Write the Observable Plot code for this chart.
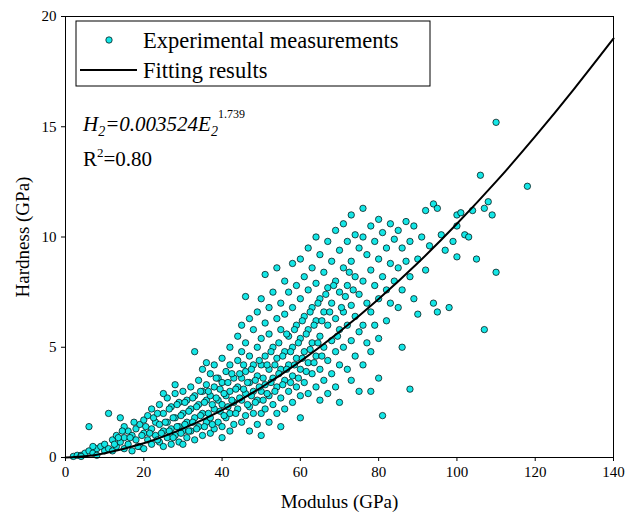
<!DOCTYPE html>
<html><head><meta charset="utf-8">
<script src="https://cdn.jsdelivr.net/npm/d3@7"></script>
<script src="https://cdn.jsdelivr.net/npm/@observablehq/plot@0.6"></script>
<style>body{margin:0;background:#fff}</style>
</head><body><div id="c"></div>
<script>
const pts = [[2,0.05],[3,0.1],[4,0.1],[5,0.2],[6,0.3],[7,0.2],[8,0.4],[6,1.4],[9,0.5],[10,0.3],[10,0.6],[8,0.1],[4,0.05],[7,0.5],
[11,0.4],[12,0.8],[12,0.3],[13,1.0],[13,0.5],[14,0.7],[14,1.8],[15,0.9],[15,0.4],[16,1.2],[16,0.6],[17,1.0],[17,0.3],[18,1.3],[18,0.8],[19,1.5],[19,0.5],[20,1.1],[20,1.7],[20,0.4],[11,2.0],[15,1.4],
[21,1.9],[21,0.8],[22,1.3],[22,2.2],[22,0.6],[23,1.6],[23,1.0],[24,2.4],[24,0.7],[24,1.5],[25,2.0],[25,1.2],[25,0.5],[26,2.7],[26,1.6],[26,0.9],[27,2.3],[27,1.3],[27,0.6],[28,2.9],[28,1.8],[28,1.0],[29,2.5],[29,1.4],[29,0.7],[30,3.0],[30,2.0],[30,1.2],[30,0.6],[25,2.9],[28,3.3],
[31,2.6],[31,1.6],[31,0.9],[32,3.2],[32,2.2],[32,1.2],[33,2.8],[33,1.8],[33,0.8],[34,3.5],[34,2.4],[34,1.4],[35,4.0],[35,3.0],[35,2.0],[35,1.0],[36,3.3],[36,2.6],[36,1.6],[37,3.8],[37,2.8],[37,1.8],[37,1.1],[38,4.2],[38,3.2],[38,2.2],[38,1.3],[39,3.6],[39,2.6],[39,1.6],[40,4.5],[40,3.4],[40,2.4],[40,1.4],[40,0.9],[33,4.8],[36,4.3],
[41,3.9],[41,2.8],[41,1.8],[42,5.0],[42,4.2],[42,3.0],[42,2.0],[42,1.2],[43,3.6],[43,2.5],[43,1.5],[44,5.5],[44,4.4],[44,3.2],[44,2.2],[45,6.0],[45,4.8],[45,3.6],[45,2.6],[45,1.6],[46,5.2],[46,3.9],[46,2.9],[46,1.9],[47,6.3],[47,4.6],[47,3.4],[47,2.3],[47,1.2],[48,5.8],[48,4.2],[48,3.0],[48,2.0],[49,6.6],[49,5.0],[49,3.7],[49,2.6],[49,1.5],[50,7.2],[50,5.4],[50,4.2],[50,3.0],[50,2.0],[50,1.0],[51,8.3],[46,7.3],
[51,6.1],[51,4.6],[51,3.3],[51,2.2],[52,6.8],[52,5.6],[52,4.0],[52,2.8],[52,1.6],[53,7.5],[53,5.0],[53,3.6],[53,2.4],[54,8.6],[54,6.3],[54,4.5],[54,3.2],[54,2.0],[55,7.0],[55,5.8],[55,4.0],[55,2.7],[55,1.4],[56,8.0],[56,6.5],[56,4.8],[56,3.5],[56,2.2],[57,7.5],[57,5.5],[57,4.2],[57,3.0],[58,8.8],[58,6.8],[58,5.0],[58,3.7],[58,2.5],[59,7.8],[59,6.0],[59,4.5],[59,3.2],[60,9.0],[60,7.2],[60,5.4],[60,4.0],[60,2.8],[60,1.8],
[61,8.2],[61,6.4],[61,4.8],[61,3.4],[62,9.5],[62,7.6],[62,5.8],[62,4.3],[62,2.9],[63,8.6],[63,6.8],[63,5.2],[63,3.8],[64,10.0],[64,7.9],[64,6.2],[64,4.6],[64,3.2],[65,9.2],[65,7.2],[65,5.5],[65,4.0],[65,2.6],[66,8.4],[66,6.6],[66,5.0],[66,3.5],[67,9.8],[67,7.7],[67,6.0],[67,4.4],[67,2.9],[68,8.9],[68,7.0],[68,5.3],[68,3.8],[69,10.3],[69,8.0],[69,6.3],[69,4.8],[69,3.2],[70,9.4],[70,7.5],[70,5.8],[70,4.2],[70,2.5],
[71,10.6],[71,8.6],[71,6.6],[71,5.0],[72,9.8],[72,7.8],[72,6.0],[72,4.0],[73,11.0],[73,8.9],[73,6.9],[73,5.3],[73,3.5],[74,10.1],[74,8.2],[74,6.4],[74,4.6],[75,9.5],[75,7.4],[75,5.7],[75,3.0],[76,11.3],[76,10.0],[76,8.0],[76,6.0],[76,4.2],[77,9.2],[77,7.0],[77,5.2],[78,10.5],[78,8.5],[78,6.6],[78,4.8],[79,9.8],[79,7.8],[79,6.0],[80,10.8],[80,9.0],[80,7.2],[80,5.4],[80,3.6],[81,1.9],[78,3.0],
[81,10.2],[81,8.2],[82,9.5],[82,7.6],[82,6.2],[83,10.6],[83,8.8],[83,7.0],[84,9.9],[84,8.0],[85,10.3],[85,8.6],[85,6.8],[86,9.5],[86,7.6],[86,5.0],[87,10.7],[87,8.9],[88,9.8],[88,8.2],[88,3.1],[89,10.5],[89,7.2],[90,9.0],[90,6.5],[91,10.0],[92,11.2],[92,8.5],[93,9.6],[94,11.5],[94,7.0],[95,11.3],[95,6.6],[96,10.1],[97,9.4],[98,6.8],[99,9.8],[100,11.0],[100,10.5],[101,11.1],[102,10.1],[103,10.0],[104,11.2],[105,9.0],[106,12.8],[107,5.8],[107,11.3],[108,11.6],[109,11.0],[110,15.2],[110,8.4],[118,12.3],[100,9.1],
[12.5,0.6],[13.5,0.9],[14.5,1.2],[16.5,0.9],[17.5,1.6],[18.5,0.5],[19.5,1.0],[20.5,1.4],[21.5,1.1],[22.5,1.8],[23.5,0.8],[23.5,2.0],[24.5,1.1],[25.5,1.6],[26.5,2.2],[26.5,1.2],[27.5,1.8],[27.5,0.9],[28.5,1.4],[28.5,2.4],[29.5,1.9],[29.5,1.1],[30.5,2.5],[30.5,1.5],[31.5,2.1],[31.5,1.2],[32.5,2.7],[32.5,1.6],[33.5,2.3],[33.5,1.3],[34.5,3.0],[34.5,1.9],[35.5,2.5],[35.5,1.4],[36.5,3.0],[36.5,2.0],[37.5,2.4],[37.5,1.5],[38.5,3.6],[38.5,2.7],[39.5,3.1],[39.5,2.1],[40.5,2.9],[40.5,1.9],[41.5,3.4],[41.5,2.3],[42.5,3.8],[42.5,2.6],[43.5,3.1],[43.5,2.0],[44.5,3.8],[44.5,2.7],[45.5,4.2],[45.5,3.1],[46.5,3.4],[46.5,2.4],[47.5,4.0],[47.5,2.8],[48.5,3.5],[48.5,2.5],[49.5,4.4],[49.5,3.2],[50.5,3.6],[50.5,2.6],[51.5,4.2],[51.5,2.9],[52.5,4.8],[52.5,3.4],[53.5,4.2],[53.5,3.0],[54.5,5.2],[54.5,3.8],[55.5,4.6],[55.5,3.3],[56.5,5.6],[56.5,4.0],[57.5,4.8],[57.5,3.4],[58.5,5.8],[58.5,4.2],[59.5,5.2],[59.5,3.6],[60.5,6.2],[60.5,4.5],[61.5,5.6],[61.5,3.9],[62.5,6.6],[62.5,4.9],[63.5,6.0],[63.5,4.3],[64.5,7.0],[64.5,5.2],[65.5,6.2],[65.5,4.6],[66.5,7.4],[67.5,6.6],[68.5,7.8],[69.5,5.5],[70.5,6.8],[71.5,7.3],[72.5,8.4],[73.5,7.6]];
const modulus = pts.map(p=>p[0]);
const hardness = pts.map(p=>p[1]);
const fitE = [0,5,10,20,30,40,50,60,70,80,90,100,110,120,130,140];
const fitH = [0,0.058,0.193,0.645,1.306,2.153,3.175,4.358,5.699,7.19,8.82,10.60,12.51,14.56,16.73,19.0];
const xTicks = [0,20,40,60,80,100,120,140];
const yTicks = [0,5,10,15,20];

const meas = modulus.map((e,i)=>({E:e,H:hardness[i]}));
const fit = fitE.map((e,i)=>({E:e,H:fitH[i]}));
const cyan = "#14e6e6";

const chart = Plot.plot({
  width:627,height:521,
  marginLeft:65,marginRight:14,marginTop:16,marginBottom:64,
  style:{fontFamily:"Liberation Serif",fontSize:"15px",color:"#000",background:"#fff"},
  x:{domain:[0,140],ticks:xTicks,tickSize:4,label:"Modulus (GPa)",labelAnchor:"center",labelOffset:50,labelArrow:"none"},
  y:{domain:[0,20],ticks:yTicks,tickSize:4,label:"Hardness (GPa)",labelAnchor:"center",labelOffset:50,labelArrow:"none"},
  marks:[
    Plot.dot(meas,{x:"E",y:"H",r:3.2,fill:cyan,stroke:"#000",strokeWidth:0.7}),
    Plot.line(fit,{x:"E",y:"H",stroke:"#000",strokeWidth:2,curve:"natural"}),
    Plot.frame({stroke:"#000",strokeWidth:1})
  ]
});
document.getElementById("c").appendChild(chart);
const svg = d3.select(chart);
svg.selectAll("[aria-label='x-axis label'] text, [aria-label='y-axis label'] text").style("font-size","19px");
const g = svg.append("g").style("font-family","Liberation Serif").attr("fill","#000").attr("text-anchor","start");
g.append("rect").attr("x",76).attr("y",21).attr("width",354).attr("height",65).attr("fill","#fff").attr("stroke","#000");
g.append("circle").attr("cx",109).attr("cy",40).attr("r",3.2).attr("fill",cyan).attr("stroke","#000").attr("stroke-width",0.7);
g.append("line").attr("x1",80).attr("x2",137).attr("y1",70).attr("y2",70).attr("stroke","#000").attr("stroke-width",2);
g.append("text").attr("x",143).attr("y",48).style("font-size","22.5px").text("Experimental measurements");
g.append("text").attr("x",143).attr("y",78).style("font-size","22.5px").text("Fitting results");
const f = g.append("text").attr("x",83).attr("y",131).style("font-size","21px").style("font-style","italic");
f.append("tspan").text("H");
f.append("tspan").attr("dy",5).style("font-size","14px").text("2");
f.append("tspan").attr("dy",-5).text("=0.003524E");
f.append("tspan").attr("dy",5).style("font-size","14px").text("2");
f.append("tspan").attr("dy",-18).style("font-size","12px").style("font-style","normal").text("1.739");
const r = g.append("text").attr("x",83).attr("y",166).style("font-size","21px");
r.append("tspan").text("R");
r.append("tspan").attr("dy",-9).style("font-size","13px").text("2");
r.append("tspan").attr("dy",9).text("=0.80");
</script></body></html>
